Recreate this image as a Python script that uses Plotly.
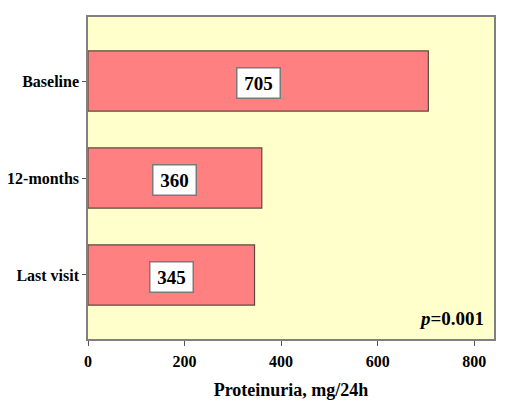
import plotly.graph_objects as go

# données
categories = ["Baseline", "12-months", "Last visit"]
proteinuria = [705, 360, 345]
x_ticks = [0, 200, 400, 600, 800]
p_text = "<i>p</i>=0.001"

font_serif = "Liberation Serif, Times New Roman, serif"

fig = go.Figure()
fig.add_trace(go.Bar(
    x=proteinuria,
    y=categories,
    orientation="h",
    width=0.62,
    marker=dict(color="#FF8080", line=dict(color="#5e4a3c", width=1.2)),
    hoverinfo="x+y",
))

# étiquettes de valeur dans des boîtes blanches
for cat, val in zip(categories, proteinuria):
    fig.add_annotation(
        x=val / 2, y=cat, yshift=-2,
        text=f"<b>{val}</b>", showarrow=False,
        font=dict(family=font_serif, size=19, color="black"),
        width=38, height=25,
        bgcolor="white", bordercolor="#7a7a7a", borderwidth=1.5, borderpad=2,
    )

fig.add_annotation(
    x=1, y=0, xref="paper", yref="paper", xanchor="right", yanchor="bottom",
    xshift=-8, yshift=8,
    text=f"<b>{p_text}</b>", showarrow=False,
    font=dict(family=font_serif, size=19, color="black"),
)

# la page ajoute 8 px de marge au body : on compense
fig.update_layout(
    width=510, height=404,
    margin=dict(l=80, r=24, t=9, b=73),
    paper_bgcolor="white",
    plot_bgcolor="#FFFFCC",
    showlegend=False,
    font=dict(family=font_serif, color="black"),
)
fig.update_xaxes(
    range=[0, 841],
    automargin=False,
    tickvals=x_ticks,
    ticktext=[f"<b>{t}</b>" for t in x_ticks],
    tickfont=dict(size=16),
    ticks="outside", ticklen=5, tickcolor="#555",
    ticklabelstandoff=2,
    showgrid=False, zeroline=False,
    showline=True, linecolor="#808080", linewidth=1.5, mirror=True,
    title=dict(text="<b>Proteinuria, mg/24h</b>", font=dict(size=18), standoff=14),
)
fig.update_yaxes(
    range=[2.66, -0.66],
    automargin=False,
    tickvals=categories,
    ticktext=[f"<b>{c}</b>" for c in categories],
    tickfont=dict(size=16),
    ticks="outside", ticklen=4, tickcolor="#555",
    ticklabelstandoff=0,
    showgrid=False, zeroline=False,
    showline=True, linecolor="#808080", linewidth=1.5, mirror=True,
)

fig.write_html("out.html")
